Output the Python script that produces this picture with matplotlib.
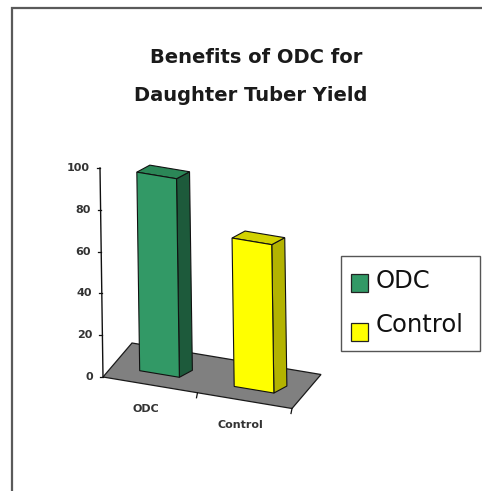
import matplotlib
matplotlib.use("Agg")
import matplotlib.pyplot as plt
from matplotlib.patches import Polygon, Rectangle
from matplotlib.transforms import Affine2D
import numpy as np

# ---- data ----
title_lines = ["Benefits of ODC for", "Daughter Tuber Yield"]
categories = ["ODC", "Control"]
values = [95, 71]
y_ticks = [0, 20, 40, 60, 80, 100]
front_colors = ["#329966", "#FFFF00"]
side_colors = ["#1D5A3B", "#B3B300"]
top_colors = ["#2B8757", "#D2D200"]

W, H = 482, 491
fig = plt.figure(figsize=(W / 100, H / 100), dpi=100)
ax = fig.add_axes([0, 0, 1, 1])
ax.set_xlim(0, W)
ax.set_ylim(H, 0)
ax.axis("off")
ax.set_autoscale_on(False)

# ---- oblique 3D projection (layout) ----
O = np.array([103.0, 377.0])   # front-left floor corner
EX = np.array([94.5, 15.75])   # one category slot
ED = np.array([29.0, -34.0])   # full floor depth
EZ = np.array([-0.03, -2.09])  # one value unit
EB = np.array([13.0, -7.0])    # bar depth
BAR_D = 0.32                   # depth of bar front faces
BAR_W = 0.42


def P(x, d, z):
    return O + x * EX + d * ED + z * EZ


# floor
n = len(categories)
floor = [P(0, 0, 0), P(n, 0, 0), P(n, 1, 0), P(0, 1, 0)]
ax.add_patch(Polygon(floor, closed=True, fc="#808080", ec="#1a1a1a", lw=0.9, zorder=1))

# value axis
a0, a1 = P(0, 0, 0), P(0, 0, max(y_ticks))
ax.plot([a0[0], a1[0]], [a0[1], a1[1]], color="#111111", lw=1.0, zorder=3)
for v in y_ticks:
    p = P(0, 0, v)
    ax.plot([p[0] - 3, p[0]], [p[1], p[1]], color="#111111", lw=0.9, zorder=3)
    ax.text(p[0] - 10, p[1], str(v), ha="right", va="center", fontsize=8,
            fontweight="bold", color="#333333")

# category ticks on floor front edge
for i in range(1, n + 1):
    p = P(i, 0, 0)
    ax.plot([p[0], p[0] - 1], [p[1], p[1] + 5], color="#111111", lw=0.9, zorder=3)

# bars: front faces via ax.bar in a projected plane
m = np.array([[EX[0], EZ[0], O[0] + BAR_D * ED[0]],
              [EX[1], EZ[1], O[1] + BAR_D * ED[1]],
              [0, 0, 1]])
front_tf = Affine2D(m) + ax.transData
xpos = np.arange(n) + 0.5
ax.bar(xpos, values, width=BAR_W, color=front_colors, edgecolor="#111111",
       linewidth=0.8, transform=front_tf, zorder=5)

for i, v in enumerate(values):
    xl, xr = xpos[i] - BAR_W / 2, xpos[i] + BAR_W / 2
    fr_b, fr_t = P(xr, BAR_D, 0), P(xr, BAR_D, v)
    fl_t = P(xl, BAR_D, v)
    side = [fr_b, fr_b + EB, fr_t + EB, fr_t]
    top = [fl_t, fr_t, fr_t + EB, fl_t + EB]
    ax.add_patch(Polygon(side, closed=True, fc=side_colors[i], ec="#111111", lw=0.8, zorder=4))
    ax.add_patch(Polygon(top, closed=True, fc=top_colors[i], ec="#111111", lw=0.8, zorder=4))
    lp = P(xpos[i], 0, 0)
    ax.text(lp[0] - 4, lp[1] + 24.5, categories[i], ha="center", va="center",
            fontsize=8, fontweight="bold", color="#333333")

# title
ax.text(256, 63, title_lines[0], ha="center", va="baseline", fontsize=14,
        fontweight="bold", color="#1a1a1a")
ax.text(251, 101, title_lines[1], ha="center", va="baseline", fontsize=14,
        fontweight="bold", color="#1a1a1a")

# outer frame
ax.plot([11.5, 11.5, W + 5], [H + 5, 8, 8], color="#5a5a5a", lw=1.6,
        clip_on=False, solid_joinstyle="miter")

# legend
ax.add_patch(Rectangle((341, 256), 139, 95, fill=False, ec="#555555", lw=1.0, zorder=6))
leg_y = [274, 323]
base_y = [288.5, 332.5]
for i, cat in enumerate(categories):
    ax.add_patch(Rectangle((351, leg_y[i]), 17, 18, fc=front_colors[i], ec="#222222",
                           lw=0.9, zorder=7))
    ax.text(376, base_y[i], cat, ha="left", va="baseline", fontsize=17.5, color="#111111")

fig.savefig("out.png", dpi=100)
